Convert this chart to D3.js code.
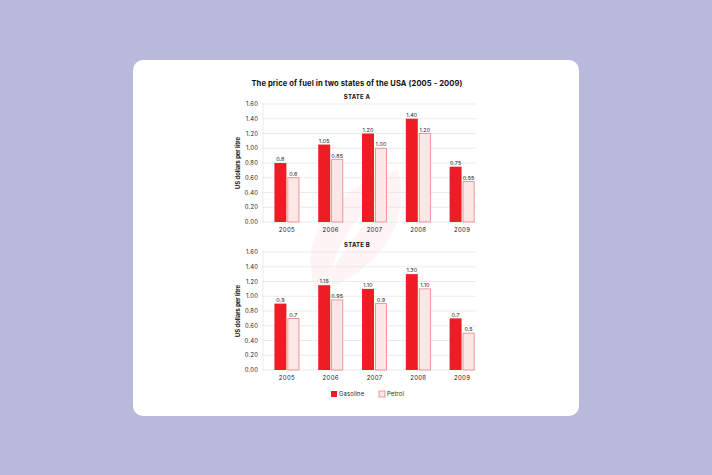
<!DOCTYPE html>
<html>
<head>
<meta charset="utf-8">
<script src="https://cdn.jsdelivr.net/npm/d3@7"></script>
<style>
  body { margin:0; background:#b9b9db; }
  svg { display:block; font-family: Inter, "Open Sans", sans-serif; }
  .tick-lbl { font-size:5.8px; fill:#222; letter-spacing:0.2px; }
  .val { font-size:5.4px; fill:#222; text-anchor:middle; letter-spacing:0.1px; }
</style>
</head>
<body>
<svg id="chart" width="712" height="475"></svg>
<script>
// fuel prices, US dollars per litre
var years = ["2005","2006","2007","2008","2009"];
var seriesNames = ["Gasoline","Petrol"];
var stateAGasoline = [0.8, 1.05, 1.20, 1.40, 0.75];
var stateAPetrol = [0.6, 0.85, 1.00, 1.20, 0.55];
var stateAGasolineLabels = ["0.8","1.05","1.20","1.40","0.75"];
var stateAPetrolLabels = ["0.6","0.85","1.00","1.20","0.55"];
var stateBGasoline = [0.9, 1.15, 1.10, 1.30, 0.7];
var stateBPetrol = [0.7, 0.95, 0.9, 1.10, 0.5];
var stateBGasolineLabels = ["0.9","1.15","1.10","1.30","0.7"];
var stateBPetrolLabels = ["0.7","0.95","0.9","1.10","0.5"];
var yTicks = [0,0.2,0.4,0.6,0.8,1.0,1.2,1.4,1.6];

var svg = d3.select("#chart");
var red = "#ee1c25";
var pink = "#fde6e6";
var pinkStroke = "#ec8084";

//white card
svg.append("rect")
  .attr("x",133).attr("y",60)
  .attr("width",446).attr("height",356)
  .attr("rx",10).attr("fill","#fff");

//faint watermark leaf
svg.append("path")
  .attr("d","M316,294 C298,240 325,190 398,170 C412,218 385,268 316,294 Z M332,270 C340,235 362,210 390,192 C368,218 350,242 332,270 Z")
  .attr("fill-rule","evenodd")
  .attr("fill","#e8242b").attr("opacity",0.05);

svg.append("text")
  .attr("x",357).attr("y",86)
  .attr("text-anchor","middle")
  .attr("font-size","7.6px").attr("font-weight",700).attr("fill","#111")
  .attr("letter-spacing","0.1px")
  .text("The price of fuel in two states of the USA (2005 - 2009)");

var x0 = d3.scaleBand().domain(years).range([265,484]).paddingInner(0.43).paddingOuter(0.215);
var x1 = d3.scaleBand().domain(seriesNames).range([0,x0.bandwidth()]).paddingInner(0.08);

var drawState = function(title, top, bottom, gas, pet, gasLbl, petLbl){
  let g = svg.append("g");
  let y = d3.scaleLinear().domain([0,1.6]).range([bottom,top]);

  g.append("text")
    .attr("x",357).attr("y",top-5)
    .attr("text-anchor","middle")
    .attr("font-size","6px").attr("font-weight",700).attr("fill","#111")
    .attr("letter-spacing","0.2px")
    .text(title);

  //grid
  g.selectAll("line.grid").data(yTicks).enter().append("line")
    .attr("x1",262).attr("x2",476)
    .attr("y1",d => y(d)).attr("y2",d => y(d))
    .attr("stroke","#e6e6e6").attr("stroke-width",0.8);

  g.append("line")
    .attr("x1",263).attr("x2",263)
    .attr("y1",y(1.6)).attr("y2",y(0))
    .attr("stroke","#e6e6e6").attr("stroke-width",0.8);

  g.selectAll("text.tick-lbl").data(yTicks).enter().append("text")
    .classed("tick-lbl",true)
    .attr("x",258).attr("y",d => y(d))
    .attr("dy","0.35em")
    .attr("text-anchor","end")
    .text(d => d.toFixed(2));

  g.append("text")
    .attr("transform","translate(240,"+((top+bottom)/2)+") rotate(-90)")
    .attr("text-anchor","middle")
    .attr("font-size","5.8px").attr("font-weight",700).attr("fill","#111")
    .text("US dollars per litre");

  //bars
  let rows = years.map((yr,i) => ({year:yr, vals:[
    {key:"Gasoline", v:gas[i], lbl:gasLbl[i]},
    {key:"Petrol", v:pet[i], lbl:petLbl[i]}]}));

  let groups = g.selectAll("g.yr").data(rows).enter().append("g")
    .attr("transform",d => "translate("+x0(d.year)+",0)");

  groups.selectAll("rect").data(d => d.vals).enter().append("rect")
    .attr("x",d => x1(d.key) + (d.key==="Petrol" ? 0.4 : 0))
    .attr("width",d => x1.bandwidth() - (d.key==="Petrol" ? 0.8 : 0))
    .attr("y",d => y(d.v))
    .attr("height",d => y(0)-y(d.v))
    .attr("fill",d => d.key==="Gasoline" ? red : pink)
    .attr("stroke",d => d.key==="Gasoline" ? "none" : pinkStroke)
    .attr("stroke-width",0.8);

  groups.selectAll("text").data(d => d.vals).enter().append("text")
    .classed("val",true)
    .attr("x",d => x1(d.key)+x1.bandwidth()/2)
    .attr("y",d => y(d.v)-1.8)
    .text(d => d.lbl);

  //year labels
  g.selectAll("text.yr").data(years).enter().append("text")
    .attr("x",d => x0(d)+x0.bandwidth()/2)
    .attr("y",bottom+10)
    .attr("text-anchor","middle")
    .attr("font-size","6px").attr("fill","#222")
    .attr("letter-spacing","0.3px")
    .text(d => d);
};

drawState("STATE A",104,222,stateAGasoline,stateAPetrol,stateAGasolineLabels,stateAPetrolLabels);
drawState("STATE B",252,370,stateBGasoline,stateBPetrol,stateBGasolineLabels,stateBPetrolLabels);

//legend
var legendX = [331,379];
var legend = svg.selectAll("g.legend").data(seriesNames).enter().append("g")
  .attr("transform",(d,i) => "translate("+legendX[i]+",391)");
legend.append("rect")
  .attr("width",6).attr("height",6)
  .attr("fill",d => d==="Gasoline" ? red : pink)
  .attr("stroke",d => d==="Gasoline" ? "none" : pinkStroke)
  .attr("stroke-width",0.8);
legend.append("text")
  .attr("x",8).attr("y",3).attr("dy","0.35em")
  .attr("font-size","5.8px").attr("fill","#222")
  .attr("letter-spacing","0.2px")
  .text(d => d);
</script>
</body>
</html>
